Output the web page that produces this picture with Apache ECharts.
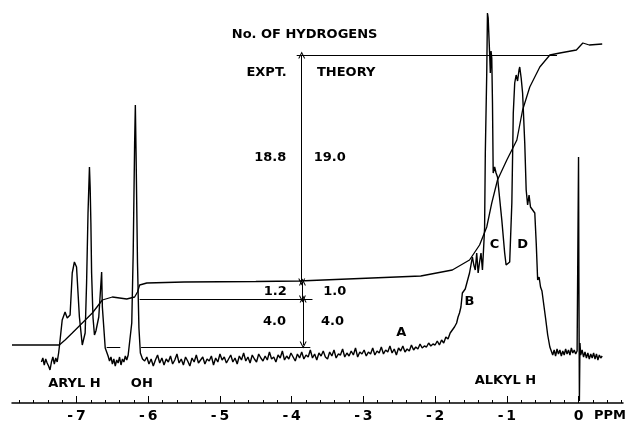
<!DOCTYPE html>
<html>
<head>
<meta charset="utf-8">
<script src="https://cdn.jsdelivr.net/npm/echarts@6/dist/echarts.min.js"></script>
<style>
  html, body { margin: 0; padding: 0; background: #fff; }
  #chart { width: 628px; height: 421px; }
</style>
</head>
<body>
<div id="chart"></div>
<script>
// chemical shift (ppm) vs. recorder height (chart units, 0 = axis line)
var spectrum = [
  [-7.49,41],[-7.47,45],[-7.45,38],[-7.43,44],[-7.41,40],[-7.39,37],[-7.37,33],[-7.35,41],[-7.33,46],[-7.31,39],
  [-7.29,45],[-7.27,41],[-7.25,50],
  [-7.24,56],[-7.20,83],[-7.16,91],[-7.13,85],[-7.09,88],[-7.06,130],[-7.03,141],[-7.00,136],[-6.96,86],[-6.92,58],
  [-6.88,70],[-6.86,120],[-6.84,190],[-6.82,236],[-6.81,215],[-6.80,180],[-6.79,130],[-6.77,85],[-6.75,68],[-6.73,72],
  [-6.69,86],[-6.65,131],[-6.64,96],[-6.60,55],[-6.56,47],[-6.54,42],
  [-6.52,46],[-6.50,39],[-6.48,44],[-6.46,37],[-6.44,43],[-6.42,40],[-6.40,46],[-6.38,38],[-6.36,44],[-6.34,41],
  [-6.32,47],[-6.30,43],[-6.28,48],
  [-6.26,50],[-6.23,80],[-6.21,150],[-6.19,260],[-6.18,298],[-6.17,250],[-6.15,140],[-6.13,75],[-6.11,50],[-6.08,44],
  [-6.05,42],[-6.02,46],[-5.99,39],[-5.96,44],[-5.93,37],[-5.90,43],[-5.87,48],[-5.84,40],[-5.81,45],[-5.78,38],
  [-5.75,44],[-5.72,41],[-5.69,47],[-5.66,39],[-5.63,43],[-5.60,49],[-5.57,40],[-5.54,44],[-5.51,38],[-5.48,46],
  [-5.45,42],[-5.42,37],[-5.39,45],[-5.36,41],[-5.33,48],[-5.30,40],[-5.27,43],[-5.24,46],[-5.21,39],[-5.18,44],
  [-5.15,42],[-5.12,47],[-5.09,38],[-5.06,45],[-5.03,41],[-5.00,49],[-4.97,43],
  [-4.94,46],[-4.91,40],[-4.88,44],[-4.85,48],[-4.82,41],[-4.79,45],[-4.76,39],[-4.73,47],[-4.70,43],[-4.67,50],
  [-4.64,42],[-4.61,46],[-4.58,40],[-4.55,48],[-4.52,44],[-4.49,41],[-4.46,49],[-4.43,45],[-4.40,42],[-4.37,47],
  [-4.34,43],[-4.31,51],[-4.28,44],[-4.25,46],[-4.22,41],[-4.19,48],[-4.16,45],[-4.13,52],[-4.10,43],[-4.07,47],
  [-4.04,44],[-4.01,50],[-3.98,46],[-3.95,42],[-3.92,49],[-3.89,45],[-3.86,51],[-3.83,44],[-3.80,48],[-3.77,46],
  [-3.74,53],[-3.71,45],[-3.68,49],[-3.65,43],[-3.62,50],[-3.59,47],[-3.56,52],[-3.53,46],[-3.50,44],[-3.47,51],
  [-3.44,47],[-3.41,53],[-3.38,45],[-3.35,49],[-3.32,48],[-3.29,54],[-3.26,46],[-3.23,50],[-3.20,47],[-3.17,52],
  [-3.14,48],[-3.11,55],[-3.08,46],[-3.05,51],[-3.02,49],
  [-2.99,53],[-2.96,47],[-2.93,51],[-2.90,49],[-2.87,55],[-2.84,48],[-2.81,52],[-2.78,50],[-2.75,56],[-2.72,49],
  [-2.69,53],[-2.66,51],[-2.63,57],[-2.60,50],[-2.57,54],[-2.54,48],[-2.51,55],[-2.48,52],[-2.45,57],[-2.42,51],
  [-2.39,54],[-2.36,52],[-2.33,58],[-2.30,53],[-2.27,56],[-2.24,54],[-2.21,59],[-2.18,55],[-2.15,57],[-2.12,56],
  [-2.09,60],[-2.06,57],[-2.03,59],[-2.00,58],[-1.97,62],
  [-1.94,58],[-1.91,63],[-1.88,60],[-1.85,66],[-1.82,64],[-1.79,70],[-1.76,73],[-1.73,76],[-1.70,80],[-1.68,86],
  [-1.66,90],[-1.64,96],[-1.62,110],[-1.60,108],[-1.58,114],[-1.55,122],[-1.52,130],[-1.50,138],[-1.48,146],[-1.46,138],
  [-1.44,133],[-1.42,150],[-1.40,130],[-1.38,141],[-1.36,150],[-1.34,133],[-1.32,160],[-1.31,175],[-1.30,250],[-1.28,330],
  [-1.27,390],[-1.26,385],[-1.24,350],[-1.23,330],[-1.22,352],[-1.21,345],[-1.20,300],[-1.19,230],[-1.17,236],[-1.15,230],
  [-1.13,226],[-1.07,183],[-1.03,150],[-1.01,138],[-0.99,136],[-0.96,141],[-0.93,200],[-0.91,290],[-0.89,320],[-0.87,328],
  [-0.85,322],[-0.83,333],[-0.82,336],[-0.80,325],[-0.78,310],[-0.75,260],[-0.73,213],[-0.71,198],[-0.69,208],[-0.67,196],
  [-0.64,193],[-0.61,190],[-0.59,160],[-0.57,123],[-0.55,126],[-0.53,116],[-0.51,112],[-0.46,85],[-0.43,68],[-0.40,56],
  [-0.38,52],[-0.36,48],[-0.34,53],[-0.32,47],[-0.30,54],[-0.28,49],[-0.26,53],[-0.24,47],[-0.22,52],[-0.20,48],
  [-0.18,54],[-0.16,49],[-0.14,53],[-0.12,48],[-0.10,55],[-0.08,50],[-0.06,53],[-0.04,49],[-0.02,52],[-0.01,50],
  [0.00,246],[0.005,120],[0.012,2],[0.02,60],[0.03,48],[0.05,53],[0.07,46],[0.09,51],[0.11,45],[0.13,50],
  [0.15,44],[0.17,49],[0.19,45],[0.21,50],[0.23,44],[0.25,49],[0.27,43],[0.29,48],[0.31,45],[0.33,47]
];

// integrator trace
var integral = [
  [-7.90,58],[-7.24,58],[-7.16,63],[-7.06,70],[-6.92,80],[-6.78,90],[-6.64,103],[-6.50,106],[-6.40,105],[-6.30,104],
  [-6.19,106],[-6.15,111],[-6.12,118],[-6.02,120],[-5.50,121],[-4.50,121.5],[-3.90,122],[-2.20,127],[-1.76,133],[-1.52,143],
  [-1.38,158],[-1.28,176],[-1.21,200],[-1.13,223],[-1.00,243],[-0.86,263],[-0.78,293],[-0.68,316],[-0.54,336],[-0.40,348],
  [-0.26,350],[-0.03,353],[0.06,360],[0.15,358],[0.33,359]
];

var majorTicks = [-7, -6, -5, -4, -3, -2, -1, 0];
var minorTicks = [-7.8,-7.6,-7.4,-7.2,-7,-6.8,-6.6,-6.4,-6.2,-6,-5.8,-5.6,-5.4,-5.2,-5,-4.8,-4.6,-4.4,-4.2,-4,
  -3.8,-3.6,-3.4,-3.2,-3,-2.8,-2.6,-2.4,-2.2,-2,-1.8,-1.6,-1.4,-1.2,-1,-0.8,-0.6,-0.4,-0.2,0,0.2,0.4,0.6];

// integral steps: [ppm, from height, to height]
var stepArrows = [
  [-3.86, 348, 121],
  [-3.85, 121, 104],
  [-3.84, 104, 58]
];
// reference levels: [from ppm, to ppm, height]
var levelLines = [
  [-3.93, -0.30, 348],
  [-6.12, -3.71, 104],
  [-6.58, -6.39, 56],
  [-6.10, -3.74, 56]
];

// text: [ppm, height, text]
var notes = [
  [-3.82, 368, 'No. OF HYDROGENS'],
  [-4.35, 330, 'EXPT.'],
  [-3.24, 330, 'THEORY'],
  [-4.30, 245, '18.8'],
  [-3.47, 245, '19.0'],
  [-4.23, 111, '1.2'],
  [-3.40, 111, '1.0'],
  [-4.24, 81, '4.0'],
  [-3.43, 81, '4.0'],
  [-2.47, 70, 'A'],
  [-1.52, 101, 'B'],
  [-1.17, 158, 'C'],
  [-0.78, 158, 'D'],
  [-7.03, 19, 'ARYL H'],
  [-6.09, 19, 'OH'],
  [-1.02, 22, 'ALKYL H']
];

var ink = '#000';
var font = 'DejaVu Sans';
var chevron = 'path://M0,10 L5,0 L10,10 L8.4,10 L5,3.2 L1.6,10 Z';

var markData = [];
levelLines.forEach(function (l) {
  markData.push([{ coord: [l[0], l[2]], symbol: 'none' }, { coord: [l[1], l[2]], symbol: 'none' }]);
});
stepArrows.forEach(function (a) {
  markData.push([
    { coord: [a[0], a[1]], symbol: chevron, symbolSize: [7, 7] },
    { coord: [a[0], a[2]], symbol: chevron, symbolSize: [7, 7] }
  ]);
});

var baseAxis = {
  type: 'value',
  min: -7.9,
  max: 0.62,
  position: 'bottom',
  offset: 0,
  splitLine: { show: false }
};

var option = {
  animation: false,
  grid: { left: 12, right: 5, top: 0, bottom: 18, outerBoundsMode: 'none', containLabel: false },
  xAxis: [
    Object.assign({}, baseAxis, {
      axisLine: { show: true, lineStyle: { color: ink, width: 1.5 } },
      axisTick: { show: true, inside: true, length: 3, customValues: minorTicks, lineStyle: { color: ink, width: 1 } },
      axisLabel: {
        show: true, customValues: majorTicks, margin: 6, color: ink,
        fontFamily: font, fontSize: 14, fontWeight: 'bold', verticalAlign: 'top',
        formatter: function (v) { return v === 0 ? '0' : '-\u2009' + Math.abs(v); }
      },
      name: 'PPM',
      nameLocation: 'end',
      nameGap: -29,
      nameTextStyle: { color: ink, fontFamily: font, fontSize: 13, fontWeight: 'bold', align: 'left', verticalAlign: 'top', padding: [6, 0, 0, 0] }
    }),
    Object.assign({}, baseAxis, {
      axisLine: { show: false },
      axisTick: { show: true, inside: true, length: 7, customValues: majorTicks, lineStyle: { color: ink, width: 1 } },
      axisLabel: { show: false }
    })
  ],
  yAxis: { type: 'value', min: 0, max: 403, show: false },
  series: [
    {
      name: 'spectrum', type: 'line', data: spectrum, showSymbol: false,
      lineStyle: { color: ink, width: 1.4 }
    },
    {
      name: 'integral', type: 'line', data: integral, showSymbol: false,
      lineStyle: { color: ink, width: 1.3 }
    },
    {
      name: 'guides', type: 'line', data: [],
      markLine: {
        silent: true, animation: false,
        label: { show: false },
        lineStyle: { color: ink, width: 1, type: 'solid' },
        itemStyle: { color: ink },
        emphasis: { disabled: true },
        data: markData
      }
    },
    {
      name: 'notes', type: 'scatter', symbolSize: 0,
      itemStyle: { color: ink, opacity: 1 },
      data: notes.map(function (n) { return { value: [n[0], n[1]], name: n[2] }; }),
      label: {
        show: true, position: 'inside', formatter: '{b}', opacity: 1,
        color: ink, textBorderWidth: 0, fontFamily: font, fontSize: 13, fontWeight: 'bold'
      }
    }
  ]
};

var chart = echarts.init(document.getElementById('chart'));
chart.setOption(option);
</script>
</body>
</html>
